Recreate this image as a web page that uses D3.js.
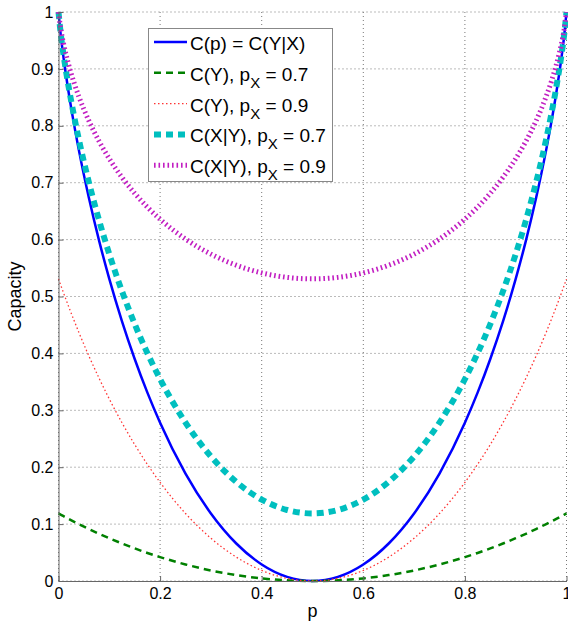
<!DOCTYPE html>
<html>
<head>
<meta charset="utf-8">
<script src="https://cdn.jsdelivr.net/npm/d3@7"></script>
<style>
  body { margin: 0; background: #fff; }
  svg { font-family: "Liberation Sans", Arial, sans-serif; display: block; }
</style>
</head>
<body>
<div class="canvas"></div>
<script>
// crossover probability p
const pVals = [0, 0.005, 0.01, 0.02, 0.03, 0.04, 0.06, 0.08, 0.1, 0.125, 0.15, 0.175, 0.2, 0.25, 0.3, 0.35, 0.4, 0.45, 0.5,
  0.55, 0.6, 0.65, 0.7, 0.75, 0.8, 0.825, 0.85, 0.875, 0.9, 0.92, 0.94, 0.96, 0.97, 0.98, 0.99, 0.995, 1];

// C(p) = C(Y|X)
const capBSC = [1, 0.9546, 0.9192, 0.8586, 0.8056, 0.7577, 0.6726, 0.5978, 0.5310, 0.4564, 0.3902, 0.3310, 0.2781, 0.1887, 0.1187, 0.0659, 0.0290, 0.0072, 0,
  0.0072, 0.0290, 0.0659, 0.1187, 0.1887, 0.2781, 0.3310, 0.3902, 0.4564, 0.5310, 0.5978, 0.6726, 0.7577, 0.8056, 0.8586, 0.9192, 0.9546, 1];
// C(Y), pX = 0.7
const capY07 = [0.1187, 0.1163, 0.1139, 0.1091, 0.1045, 0.1000, 0.0913, 0.0830, 0.0752, 0.0659, 0.0573, 0.0493, 0.0420, 0.0291, 0.0185, 0.0104, 0.0046, 0.0012, 0,
  0.0012, 0.0046, 0.0104, 0.0185, 0.0291, 0.0420, 0.0493, 0.0573, 0.0659, 0.0752, 0.0830, 0.0913, 0.1000, 0.1045, 0.1091, 0.1139, 0.1163, 0.1187];
// C(Y), pX = 0.9
const capY09 = [0.5310, 0.5185, 0.5061, 0.4822, 0.4593, 0.4371, 0.3952, 0.3562, 0.3199, 0.2781, 0.2398, 0.2050, 0.1733, 0.1187, 0.0752, 0.0420, 0.0185, 0.0046, 0,
  0.0046, 0.0185, 0.0420, 0.0752, 0.1187, 0.1733, 0.2050, 0.2398, 0.2781, 0.3199, 0.3562, 0.3952, 0.4371, 0.4593, 0.4822, 0.5061, 0.5185, 0.5310];
// C(X|Y), pX = 0.7
const capXY07 = [1, 0.9570, 0.9241, 0.8681, 0.8198, 0.7764, 0.7000, 0.6335, 0.5745, 0.5092, 0.4516, 0.4004, 0.3548, 0.2784, 0.2189, 0.1742, 0.1431, 0.1248, 0.1187,
  0.1248, 0.1431, 0.1742, 0.2189, 0.2784, 0.3548, 0.4004, 0.4516, 0.5092, 0.5745, 0.6335, 0.7000, 0.7764, 0.8198, 0.8681, 0.9241, 0.9570, 1];
// C(X|Y), pX = 0.9
const capXY09 = [1, 0.9671, 0.9441, 0.9073, 0.8774, 0.8516, 0.8084, 0.7726, 0.7421, 0.7094, 0.6813, 0.6570, 0.6358, 0.6010, 0.5745, 0.5550, 0.5415, 0.5336, 0.5310,
  0.5336, 0.5415, 0.5550, 0.5745, 0.6010, 0.6358, 0.6570, 0.6813, 0.7094, 0.7421, 0.7726, 0.8084, 0.8516, 0.8774, 0.9073, 0.9441, 0.9671, 1];

const xTicks = [0, 0.2, 0.4, 0.6, 0.8, 1];
const yTicks = [0, 0.1, 0.2, 0.3, 0.4, 0.5, 0.6, 0.7, 0.8, 0.9, 1];

// legend labels: [main text, subscript, trailing text]
const legendLabels = [
  ["C(p) = C(Y|X)", "", ""],
  ["C(Y), p", "X", " = 0.7"],
  ["C(Y), p", "X", " = 0.9"],
  ["C(X|Y), p", "X", " = 0.7"],
  ["C(X|Y), p", "X", " = 0.9"]
];

// line styles for each series
const styles = [
  {data: capBSC,  color: "#0000ff", width: 2.5, dash: null},
  {data: capY07,  color: "#008000", width: 2.5, dash: "7,5"},
  {data: capY09,  color: "#ff3333", width: 1.3, dash: "1.5,2.5"},
  {data: capXY07, color: "#00bfbf", width: 6,   dash: "7,5"},
  {data: capXY09, color: "#c21ec2", width: 5,   dash: "1.6,2.9"}
];

const width = 568, height = 625;
const margin = {top: 12, right: 1.5, bottom: 44, left: 58.5};
const graphWidth = width - margin.left - margin.right;
const graphHeight = height - margin.top - margin.bottom;

const svg = d3.select('.canvas')
  .append('svg')
  .attr('width', width)
  .attr('height', height);

const graph = svg.append('g')
  .attr('transform', `translate(${margin.left}, ${margin.top})`);

// scales
const x = d3.scaleLinear().domain([0, 1]).range([0, graphWidth]);
const y = d3.scaleLinear().domain([0, 1]).range([graphHeight, 0]);

// dotted grid
graph.append('g').selectAll('line.gx')
  .data(xTicks)
  .enter().append('line')
  .attr('x1', d => x(d)).attr('x2', d => x(d))
  .attr('y1', 0).attr('y2', graphHeight)
  .attr('stroke', '#777').attr('stroke-width', 1)
  .attr('stroke-dasharray', '1,3');

graph.append('g').selectAll('line.gy')
  .data(yTicks)
  .enter().append('line')
  .attr('x1', 0).attr('x2', graphWidth)
  .attr('y1', d => y(d)).attr('y2', d => y(d))
  .attr('stroke', '#777').attr('stroke-width', 1)
  .attr('stroke-dasharray', '1,3');

// curves
const line = d3.line()
  .x((d, i) => x(pVals[i]))
  .y(d => y(d))
  .curve(d3.curveMonotoneX);

styles.forEach(s => {
  graph.append('path')
    .datum(s.data)
    .attr('fill', 'none')
    .attr('stroke', s.color)
    .attr('stroke-width', s.width)
    .attr('stroke-dasharray', s.dash)
    .attr('d', line);
});

// axes with inward ticks
const xAxis = d3.axisBottom(x)
  .tickValues(xTicks)
  .tickFormat(d3.format('~g'))
  .tickSizeInner(-5)
  .tickSizeOuter(0)
  .tickPadding(7);

const yAxis = d3.axisLeft(y)
  .tickValues(yTicks)
  .tickFormat(d3.format('~g'))
  .tickSizeInner(-5)
  .tickSizeOuter(0)
  .tickPadding(5);

const xAxisGroup = graph.append('g')
  .attr('transform', `translate(0, ${graphHeight})`)
  .call(xAxis);

const yAxisGroup = graph.append('g')
  .call(yAxis);

[xAxisGroup, yAxisGroup].forEach(g => {
  g.selectAll('path, line').attr('stroke', '#666');
  g.selectAll('text')
    .attr('fill', '#000')
    .style('font-size', '16px')
    .style('font-family', '"Liberation Sans", Arial, sans-serif');
});

// axis titles
svg.append('text')
  .attr('x', margin.left + x(0.5))
  .attr('y', 617)
  .attr('text-anchor', 'middle')
  .style('font-size', '18px')
  .text('p');

svg.append('text')
  .attr('transform', `translate(21, ${margin.top + graphHeight / 2}) rotate(-90)`)
  .attr('text-anchor', 'middle')
  .style('font-size', '18px')
  .text('Capacity');

// legend
const legend = svg.append('g');
legend.append('rect')
  .attr('x', 148.5).attr('y', 28.5)
  .attr('width', 184).attr('height', 153)
  .attr('fill', '#fff')
  .attr('stroke', '#888')
  .attr('stroke-width', 1);

legendLabels.forEach((lab, i) => {
  const cy = 42 + i * 30.8;
  const s = styles[i];
  legend.append('line')
    .attr('x1', 154).attr('x2', 187)
    .attr('y1', cy).attr('y2', cy)
    .attr('stroke', s.color)
    .attr('stroke-width', s.width)
    .attr('stroke-dasharray', s.dash);

  const t = legend.append('text')
    .attr('x', 190)
    .attr('y', cy + 8)
    .style('font-size', '19px');
  t.append('tspan').text(lab[0]);
  if (lab[1]) {
    t.append('tspan').attr('dy', 7).style('font-size', '15px').text(lab[1]);
    t.append('tspan').attr('dy', -7).text(lab[2]);
  }
});
</script>
</body>
</html>
